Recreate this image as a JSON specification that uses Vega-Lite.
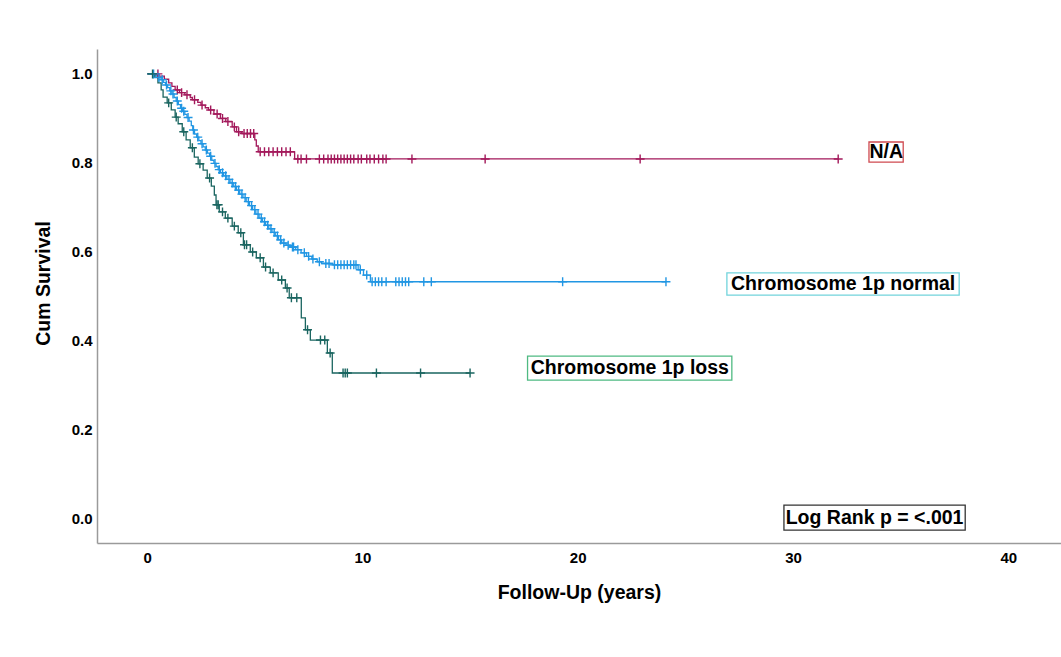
{
  "$schema": "https://vega.github.io/schema/vega-lite/v6.json",
  "autosize": {"type": "none"},
  "padding": {"left": 97, "top": 49, "right": 0, "bottom": 114},
  "width": 964,
  "height": 494,
  "background": "white",
  "config": {
    "view": {"stroke": null},
    "font": "Liberation Sans",
    "axis": {
      "grid": false,
      "ticks": false,
      "domainColor": "#9a9a9a",
      "domainWidth": 1.5,
      "labelFont": "Liberation Sans",
      "labelFontWeight": "bold",
      "labelFontSize": 15,
      "labelColor": "#000000",
      "titleFont": "Liberation Sans",
      "titleFontWeight": "bold",
      "titleFontSize": 19.5,
      "titleColor": "#000000"
    }
  },
  "datasets": {
    "km": [
      {"g":"N/A","t":0,"s":1,"c":0},{"g":"N/A","t":0.5,"s":1,"c":1},{"g":"N/A","t":0.55,"s":0.995,"c":0},{"g":"N/A","t":0.8,"s":0.988,"c":0},{"g":"N/A","t":1.0,"s":0.98,"c":0},{"g":"N/A","t":1.15,"s":0.972,"c":0},{"g":"N/A","t":1.3,"s":0.964,"c":0},{"g":"N/A","t":1.4,"s":0.964,"c":1},{"g":"N/A","t":1.5,"s":0.958,"c":0},{"g":"N/A","t":1.6,"s":0.958,"c":1},{"g":"N/A","t":1.75,"s":0.953,"c":0},{"g":"N/A","t":1.85,"s":0.953,"c":1},{"g":"N/A","t":2.0,"s":0.947,"c":0},{"g":"N/A","t":2.1,"s":0.942,"c":0},{"g":"N/A","t":2.2,"s":0.942,"c":1},{"g":"N/A","t":2.35,"s":0.936,"c":0},{"g":"N/A","t":2.5,"s":0.93,"c":0},{"g":"N/A","t":2.55,"s":0.93,"c":1},{"g":"N/A","t":2.7,"s":0.924,"c":0},{"g":"N/A","t":2.85,"s":0.919,"c":0},{"g":"N/A","t":2.95,"s":0.919,"c":1},{"g":"N/A","t":3.1,"s":0.91,"c":0},{"g":"N/A","t":3.25,"s":0.91,"c":1},{"g":"N/A","t":3.4,"s":0.9,"c":0},{"g":"N/A","t":3.5,"s":0.9,"c":1},{"g":"N/A","t":3.65,"s":0.893,"c":0},{"g":"N/A","t":3.75,"s":0.893,"c":1},{"g":"N/A","t":3.95,"s":0.881,"c":0},{"g":"N/A","t":4.05,"s":0.881,"c":1},{"g":"N/A","t":4.15,"s":0.87,"c":0},{"g":"N/A","t":4.25,"s":0.87,"c":1},{"g":"N/A","t":4.4,"s":0.866,"c":0},{"g":"N/A","t":4.5,"s":0.866,"c":1},{"g":"N/A","t":4.65,"s":0.866,"c":1},{"g":"N/A","t":4.8,"s":0.866,"c":1},{"g":"N/A","t":4.95,"s":0.866,"c":1},{"g":"N/A","t":5.0,"s":0.852,"c":0},{"g":"N/A","t":5.07,"s":0.838,"c":0},{"g":"N/A","t":5.16,"s":0.825,"c":0},{"g":"N/A","t":5.25,"s":0.825,"c":1},{"g":"N/A","t":5.45,"s":0.825,"c":1},{"g":"N/A","t":5.65,"s":0.825,"c":1},{"g":"N/A","t":5.85,"s":0.825,"c":1},{"g":"N/A","t":6.05,"s":0.825,"c":1},{"g":"N/A","t":6.25,"s":0.825,"c":1},{"g":"N/A","t":6.45,"s":0.825,"c":1},{"g":"N/A","t":6.65,"s":0.825,"c":1},{"g":"N/A","t":6.85,"s":0.809,"c":0},{"g":"N/A","t":7.0,"s":0.809,"c":1},{"g":"N/A","t":7.15,"s":0.809,"c":1},{"g":"N/A","t":7.4,"s":0.809,"c":1},{"g":"N/A","t":8.0,"s":0.809,"c":1},{"g":"N/A","t":8.2,"s":0.809,"c":1},{"g":"N/A","t":8.4,"s":0.809,"c":1},{"g":"N/A","t":8.55,"s":0.809,"c":1},{"g":"N/A","t":8.7,"s":0.809,"c":1},{"g":"N/A","t":8.85,"s":0.809,"c":1},{"g":"N/A","t":9.0,"s":0.809,"c":1},{"g":"N/A","t":9.15,"s":0.809,"c":1},{"g":"N/A","t":9.3,"s":0.809,"c":1},{"g":"N/A","t":9.45,"s":0.809,"c":1},{"g":"N/A","t":9.6,"s":0.809,"c":1},{"g":"N/A","t":9.8,"s":0.809,"c":1},{"g":"N/A","t":9.95,"s":0.809,"c":1},{"g":"N/A","t":10.2,"s":0.809,"c":1},{"g":"N/A","t":10.35,"s":0.809,"c":1},{"g":"N/A","t":10.55,"s":0.809,"c":1},{"g":"N/A","t":10.75,"s":0.809,"c":1},{"g":"N/A","t":10.95,"s":0.809,"c":1},{"g":"N/A","t":11.1,"s":0.809,"c":1},{"g":"N/A","t":12.3,"s":0.809,"c":1},{"g":"N/A","t":15.7,"s":0.809,"c":1},{"g":"N/A","t":22.9,"s":0.809,"c":1},{"g":"N/A","t":32.1,"s":0.809,"c":1},

      {"g":"Chromosome 1p normal","t":0,"s":1,"c":0},{"g":"Chromosome 1p normal","t":0.3,"s":1,"c":1},{"g":"Chromosome 1p normal","t":0.35,"s":0.996,"c":0},{"g":"Chromosome 1p normal","t":0.5,"s":0.992,"c":0},{"g":"Chromosome 1p normal","t":0.55,"s":0.992,"c":1},{"g":"Chromosome 1p normal","t":0.65,"s":0.987,"c":0},{"g":"Chromosome 1p normal","t":0.7,"s":0.987,"c":1},{"g":"Chromosome 1p normal","t":0.75,"s":0.981,"c":0},{"g":"Chromosome 1p normal","t":0.85,"s":0.975,"c":0},{"g":"Chromosome 1p normal","t":0.9,"s":0.975,"c":1},{"g":"Chromosome 1p normal","t":0.95,"s":0.969,"c":0},{"g":"Chromosome 1p normal","t":1.05,"s":0.962,"c":0},{"g":"Chromosome 1p normal","t":1.1,"s":0.962,"c":1},{"g":"Chromosome 1p normal","t":1.15,"s":0.955,"c":0},{"g":"Chromosome 1p normal","t":1.2,"s":0.955,"c":1},{"g":"Chromosome 1p normal","t":1.25,"s":0.947,"c":0},{"g":"Chromosome 1p normal","t":1.35,"s":0.939,"c":0},{"g":"Chromosome 1p normal","t":1.4,"s":0.939,"c":1},{"g":"Chromosome 1p normal","t":1.45,"s":0.931,"c":0},{"g":"Chromosome 1p normal","t":1.55,"s":0.923,"c":0},{"g":"Chromosome 1p normal","t":1.6,"s":0.923,"c":1},{"g":"Chromosome 1p normal","t":1.65,"s":0.916,"c":0},{"g":"Chromosome 1p normal","t":1.7,"s":0.916,"c":1},{"g":"Chromosome 1p normal","t":1.75,"s":0.909,"c":0},{"g":"Chromosome 1p normal","t":1.85,"s":0.902,"c":0},{"g":"Chromosome 1p normal","t":1.9,"s":0.902,"c":1},{"g":"Chromosome 1p normal","t":1.95,"s":0.894,"c":0},{"g":"Chromosome 1p normal","t":2.05,"s":0.884,"c":0},{"g":"Chromosome 1p normal","t":2.12,"s":0.874,"c":0},{"g":"Chromosome 1p normal","t":2.15,"s":0.874,"c":1},{"g":"Chromosome 1p normal","t":2.2,"s":0.865,"c":0},{"g":"Chromosome 1p normal","t":2.3,"s":0.858,"c":0},{"g":"Chromosome 1p normal","t":2.35,"s":0.858,"c":1},{"g":"Chromosome 1p normal","t":2.4,"s":0.85,"c":0},{"g":"Chromosome 1p normal","t":2.5,"s":0.843,"c":0},{"g":"Chromosome 1p normal","t":2.55,"s":0.843,"c":1},{"g":"Chromosome 1p normal","t":2.6,"s":0.836,"c":0},{"g":"Chromosome 1p normal","t":2.7,"s":0.829,"c":0},{"g":"Chromosome 1p normal","t":2.75,"s":0.829,"c":1},{"g":"Chromosome 1p normal","t":2.8,"s":0.822,"c":0},{"g":"Chromosome 1p normal","t":2.9,"s":0.815,"c":0},{"g":"Chromosome 1p normal","t":2.95,"s":0.815,"c":1},{"g":"Chromosome 1p normal","t":3.0,"s":0.806,"c":0},{"g":"Chromosome 1p normal","t":3.1,"s":0.799,"c":0},{"g":"Chromosome 1p normal","t":3.15,"s":0.799,"c":1},{"g":"Chromosome 1p normal","t":3.2,"s":0.792,"c":0},{"g":"Chromosome 1p normal","t":3.3,"s":0.785,"c":0},{"g":"Chromosome 1p normal","t":3.35,"s":0.785,"c":1},{"g":"Chromosome 1p normal","t":3.4,"s":0.778,"c":0},{"g":"Chromosome 1p normal","t":3.5,"s":0.778,"c":1},{"g":"Chromosome 1p normal","t":3.55,"s":0.771,"c":0},{"g":"Chromosome 1p normal","t":3.65,"s":0.771,"c":1},{"g":"Chromosome 1p normal","t":3.7,"s":0.763,"c":0},{"g":"Chromosome 1p normal","t":3.8,"s":0.763,"c":1},{"g":"Chromosome 1p normal","t":3.85,"s":0.755,"c":0},{"g":"Chromosome 1p normal","t":3.95,"s":0.755,"c":1},{"g":"Chromosome 1p normal","t":4.0,"s":0.747,"c":0},{"g":"Chromosome 1p normal","t":4.1,"s":0.747,"c":1},{"g":"Chromosome 1p normal","t":4.15,"s":0.739,"c":0},{"g":"Chromosome 1p normal","t":4.25,"s":0.739,"c":1},{"g":"Chromosome 1p normal","t":4.3,"s":0.73,"c":0},{"g":"Chromosome 1p normal","t":4.4,"s":0.73,"c":1},{"g":"Chromosome 1p normal","t":4.45,"s":0.722,"c":0},{"g":"Chromosome 1p normal","t":4.55,"s":0.722,"c":1},{"g":"Chromosome 1p normal","t":4.6,"s":0.713,"c":0},{"g":"Chromosome 1p normal","t":4.7,"s":0.713,"c":1},{"g":"Chromosome 1p normal","t":4.75,"s":0.704,"c":0},{"g":"Chromosome 1p normal","t":4.85,"s":0.704,"c":1},{"g":"Chromosome 1p normal","t":4.9,"s":0.695,"c":0},{"g":"Chromosome 1p normal","t":5.0,"s":0.695,"c":1},{"g":"Chromosome 1p normal","t":5.05,"s":0.685,"c":0},{"g":"Chromosome 1p normal","t":5.15,"s":0.685,"c":1},{"g":"Chromosome 1p normal","t":5.2,"s":0.676,"c":0},{"g":"Chromosome 1p normal","t":5.3,"s":0.676,"c":1},{"g":"Chromosome 1p normal","t":5.35,"s":0.668,"c":0},{"g":"Chromosome 1p normal","t":5.45,"s":0.668,"c":1},{"g":"Chromosome 1p normal","t":5.5,"s":0.66,"c":0},{"g":"Chromosome 1p normal","t":5.6,"s":0.66,"c":1},{"g":"Chromosome 1p normal","t":5.65,"s":0.652,"c":0},{"g":"Chromosome 1p normal","t":5.75,"s":0.652,"c":1},{"g":"Chromosome 1p normal","t":5.8,"s":0.644,"c":0},{"g":"Chromosome 1p normal","t":5.9,"s":0.644,"c":1},{"g":"Chromosome 1p normal","t":5.95,"s":0.636,"c":0},{"g":"Chromosome 1p normal","t":6.05,"s":0.636,"c":1},{"g":"Chromosome 1p normal","t":6.1,"s":0.627,"c":0},{"g":"Chromosome 1p normal","t":6.2,"s":0.627,"c":1},{"g":"Chromosome 1p normal","t":6.25,"s":0.62,"c":0},{"g":"Chromosome 1p normal","t":6.35,"s":0.62,"c":1},{"g":"Chromosome 1p normal","t":6.45,"s":0.615,"c":0},{"g":"Chromosome 1p normal","t":6.55,"s":0.615,"c":1},{"g":"Chromosome 1p normal","t":6.65,"s":0.611,"c":0},{"g":"Chromosome 1p normal","t":6.75,"s":0.611,"c":1},{"g":"Chromosome 1p normal","t":6.8,"s":0.611,"c":1},{"g":"Chromosome 1p normal","t":6.9,"s":0.605,"c":0},{"g":"Chromosome 1p normal","t":7.0,"s":0.605,"c":1},{"g":"Chromosome 1p normal","t":7.15,"s":0.598,"c":0},{"g":"Chromosome 1p normal","t":7.3,"s":0.598,"c":1},{"g":"Chromosome 1p normal","t":7.4,"s":0.59,"c":0},{"g":"Chromosome 1p normal","t":7.5,"s":0.59,"c":1},{"g":"Chromosome 1p normal","t":7.65,"s":0.584,"c":0},{"g":"Chromosome 1p normal","t":7.7,"s":0.584,"c":1},{"g":"Chromosome 1p normal","t":7.9,"s":0.578,"c":0},{"g":"Chromosome 1p normal","t":8.0,"s":0.578,"c":1},{"g":"Chromosome 1p normal","t":8.1,"s":0.574,"c":0},{"g":"Chromosome 1p normal","t":8.3,"s":0.574,"c":1},{"g":"Chromosome 1p normal","t":8.45,"s":0.574,"c":1},{"g":"Chromosome 1p normal","t":8.6,"s":0.571,"c":0},{"g":"Chromosome 1p normal","t":8.7,"s":0.571,"c":1},{"g":"Chromosome 1p normal","t":8.85,"s":0.571,"c":1},{"g":"Chromosome 1p normal","t":9.0,"s":0.571,"c":1},{"g":"Chromosome 1p normal","t":9.15,"s":0.571,"c":1},{"g":"Chromosome 1p normal","t":9.3,"s":0.571,"c":1},{"g":"Chromosome 1p normal","t":9.45,"s":0.571,"c":1},{"g":"Chromosome 1p normal","t":9.6,"s":0.571,"c":1},{"g":"Chromosome 1p normal","t":9.7,"s":0.571,"c":1},{"g":"Chromosome 1p normal","t":9.8,"s":0.56,"c":0},{"g":"Chromosome 1p normal","t":9.9,"s":0.56,"c":1},{"g":"Chromosome 1p normal","t":10.05,"s":0.548,"c":0},{"g":"Chromosome 1p normal","t":10.2,"s":0.548,"c":1},{"g":"Chromosome 1p normal","t":10.37,"s":0.533,"c":0},{"g":"Chromosome 1p normal","t":10.45,"s":0.533,"c":1},{"g":"Chromosome 1p normal","t":10.6,"s":0.533,"c":1},{"g":"Chromosome 1p normal","t":10.75,"s":0.533,"c":1},{"g":"Chromosome 1p normal","t":10.9,"s":0.533,"c":1},{"g":"Chromosome 1p normal","t":11.1,"s":0.533,"c":1},{"g":"Chromosome 1p normal","t":11.55,"s":0.533,"c":1},{"g":"Chromosome 1p normal","t":11.7,"s":0.533,"c":1},{"g":"Chromosome 1p normal","t":11.85,"s":0.533,"c":1},{"g":"Chromosome 1p normal","t":12.0,"s":0.533,"c":1},{"g":"Chromosome 1p normal","t":12.15,"s":0.533,"c":1},{"g":"Chromosome 1p normal","t":12.85,"s":0.533,"c":1},{"g":"Chromosome 1p normal","t":13.2,"s":0.533,"c":1},{"g":"Chromosome 1p normal","t":19.3,"s":0.533,"c":1},{"g":"Chromosome 1p normal","t":24.1,"s":0.533,"c":1},

      {"g":"Chromosome 1p loss","t":0,"s":1,"c":0},{"g":"Chromosome 1p loss","t":0.25,"s":1,"c":1},{"g":"Chromosome 1p loss","t":0.35,"s":0.993,"c":0},{"g":"Chromosome 1p loss","t":0.5,"s":0.98,"c":0},{"g":"Chromosome 1p loss","t":0.65,"s":0.964,"c":0},{"g":"Chromosome 1p loss","t":0.74,"s":0.948,"c":0},{"g":"Chromosome 1p loss","t":0.93,"s":0.935,"c":0},{"g":"Chromosome 1p loss","t":1.0,"s":0.935,"c":1},{"g":"Chromosome 1p loss","t":1.12,"s":0.919,"c":0},{"g":"Chromosome 1p loss","t":1.3,"s":0.903,"c":0},{"g":"Chromosome 1p loss","t":1.35,"s":0.903,"c":1},{"g":"Chromosome 1p loss","t":1.44,"s":0.888,"c":0},{"g":"Chromosome 1p loss","t":1.63,"s":0.87,"c":0},{"g":"Chromosome 1p loss","t":1.7,"s":0.87,"c":1},{"g":"Chromosome 1p loss","t":1.81,"s":0.852,"c":0},{"g":"Chromosome 1p loss","t":2.0,"s":0.834,"c":0},{"g":"Chromosome 1p loss","t":2.1,"s":0.834,"c":1},{"g":"Chromosome 1p loss","t":2.19,"s":0.813,"c":0},{"g":"Chromosome 1p loss","t":2.37,"s":0.798,"c":0},{"g":"Chromosome 1p loss","t":2.45,"s":0.798,"c":1},{"g":"Chromosome 1p loss","t":2.6,"s":0.784,"c":0},{"g":"Chromosome 1p loss","t":2.79,"s":0.766,"c":0},{"g":"Chromosome 1p loss","t":2.9,"s":0.766,"c":1},{"g":"Chromosome 1p loss","t":2.98,"s":0.748,"c":0},{"g":"Chromosome 1p loss","t":3.12,"s":0.728,"c":0},{"g":"Chromosome 1p loss","t":3.2,"s":0.706,"c":0},{"g":"Chromosome 1p loss","t":3.24,"s":0.706,"c":1},{"g":"Chromosome 1p loss","t":3.3,"s":0.706,"c":1},{"g":"Chromosome 1p loss","t":3.35,"s":0.69,"c":0},{"g":"Chromosome 1p loss","t":3.5,"s":0.69,"c":1},{"g":"Chromosome 1p loss","t":3.63,"s":0.676,"c":0},{"g":"Chromosome 1p loss","t":3.75,"s":0.676,"c":1},{"g":"Chromosome 1p loss","t":3.95,"s":0.658,"c":0},{"g":"Chromosome 1p loss","t":4.05,"s":0.658,"c":1},{"g":"Chromosome 1p loss","t":4.23,"s":0.643,"c":0},{"g":"Chromosome 1p loss","t":4.35,"s":0.643,"c":1},{"g":"Chromosome 1p loss","t":4.47,"s":0.616,"c":0},{"g":"Chromosome 1p loss","t":4.52,"s":0.616,"c":1},{"g":"Chromosome 1p loss","t":4.62,"s":0.616,"c":1},{"g":"Chromosome 1p loss","t":4.79,"s":0.6,"c":0},{"g":"Chromosome 1p loss","t":4.9,"s":0.6,"c":1},{"g":"Chromosome 1p loss","t":5.07,"s":0.587,"c":0},{"g":"Chromosome 1p loss","t":5.25,"s":0.587,"c":1},{"g":"Chromosome 1p loss","t":5.4,"s":0.566,"c":0},{"g":"Chromosome 1p loss","t":5.5,"s":0.566,"c":1},{"g":"Chromosome 1p loss","t":5.72,"s":0.553,"c":0},{"g":"Chromosome 1p loss","t":5.85,"s":0.553,"c":1},{"g":"Chromosome 1p loss","t":6.09,"s":0.537,"c":0},{"g":"Chromosome 1p loss","t":6.25,"s":0.537,"c":1},{"g":"Chromosome 1p loss","t":6.42,"s":0.519,"c":0},{"g":"Chromosome 1p loss","t":6.5,"s":0.519,"c":1},{"g":"Chromosome 1p loss","t":6.6,"s":0.497,"c":0},{"g":"Chromosome 1p loss","t":6.7,"s":0.497,"c":1},{"g":"Chromosome 1p loss","t":6.95,"s":0.497,"c":1},{"g":"Chromosome 1p loss","t":7.16,"s":0.452,"c":0},{"g":"Chromosome 1p loss","t":7.35,"s":0.425,"c":0},{"g":"Chromosome 1p loss","t":7.45,"s":0.425,"c":1},{"g":"Chromosome 1p loss","t":7.58,"s":0.402,"c":0},{"g":"Chromosome 1p loss","t":8.05,"s":0.402,"c":1},{"g":"Chromosome 1p loss","t":8.25,"s":0.402,"c":1},{"g":"Chromosome 1p loss","t":8.37,"s":0.373,"c":0},{"g":"Chromosome 1p loss","t":8.5,"s":0.373,"c":1},{"g":"Chromosome 1p loss","t":8.6,"s":0.328,"c":0},{"g":"Chromosome 1p loss","t":9.1,"s":0.328,"c":1},{"g":"Chromosome 1p loss","t":9.2,"s":0.328,"c":1},{"g":"Chromosome 1p loss","t":9.3,"s":0.328,"c":1},{"g":"Chromosome 1p loss","t":10.65,"s":0.328,"c":1},{"g":"Chromosome 1p loss","t":12.7,"s":0.328,"c":1},{"g":"Chromosome 1p loss","t":15.0,"s":0.328,"c":1}
    ],
    "ann": [
      {"label":"N/A","k":"N/A","x1":33.53,"x2":35.12,"y1":0.847,"y2":0.802,"tx":34.33,"ty":0.825},
      {"label":"Chromosome 1p normal","k":"normal","x1":26.93,"x2":37.72,"y1":0.553,"y2":0.503,"tx":32.33,"ty":0.528},
      {"label":"Chromosome 1p loss","k":"loss","x1":17.67,"x2":27.16,"y1":0.366,"y2":0.312,"tx":22.42,"ty":0.339},
      {"label":"Log Rank p = <.001","k":"logrank","x1":29.58,"x2":38.0,"y1":0.031,"y2":-0.025,"tx":33.79,"ty":0.003}
    ]
  },
  "layer": [
    {
      "data": {"name": "km"},
      "mark": {"type": "line", "interpolate": "step-after", "strokeWidth": 1.3},
      "encoding": {
        "x": {"field": "t", "type": "quantitative", "scale": {"domain": [-2.33, 42.45], "nice": false, "zero": false},
              "axis": {"values": [0, 10, 20, 30, 40], "title": "Follow-Up (years)", "labelPadding": 7, "titlePadding": 18}},
        "y": {"field": "s", "type": "quantitative", "scale": {"domain": [-0.054, 1.056], "nice": false, "zero": false},
              "axis": {"values": [0, 0.2, 0.4, 0.6, 0.8, 1.0], "format": ".1f", "title": "Cum Survival", "labelPadding": 5, "titlePadding": 18, "titleY": 234}},
        "color": {"field": "g", "type": "nominal",
                  "scale": {"domain": ["N/A", "Chromosome 1p normal", "Chromosome 1p loss"], "range": ["#a3195b", "#2196e3", "#1a6560"]},
                  "legend": null}
      }
    },
    {
      "data": {"name": "km"},
      "transform": [{"filter": "datum.c == 1"}],
      "mark": {"type": "point", "shape": "M-1,0H1M0,-1V1", "size": 80, "strokeWidth": 1.4, "filled": false, "opacity": 1},
      "encoding": {
        "x": {"field": "t", "type": "quantitative"},
        "y": {"field": "s", "type": "quantitative"},
        "color": {"field": "g", "type": "nominal", "legend": null}
      }
    },
    {
      "data": {"name": "ann"},
      "mark": {"type": "rect", "fill": "white", "strokeWidth": 1.3},
      "encoding": {
        "x": {"field": "x1", "type": "quantitative"},
        "x2": {"field": "x2"},
        "y": {"field": "y1", "type": "quantitative"},
        "y2": {"field": "y2"},
        "stroke": {"field": "k", "type": "nominal",
                   "scale": {"domain": ["N/A", "normal", "loss", "logrank"], "range": ["#cf4a50", "#72d4dc", "#4fba82", "#333333"]},
                   "legend": null}
      }
    },
    {
      "data": {"name": "ann"},
      "mark": {"type": "text", "font": "Liberation Sans", "fontWeight": "bold", "fontSize": 19.5, "align": "center", "baseline": "middle", "color": "#000000"},
      "encoding": {
        "x": {"field": "tx", "type": "quantitative"},
        "y": {"field": "ty", "type": "quantitative"},
        "text": {"field": "label"}
      }
    }
  ]
}
